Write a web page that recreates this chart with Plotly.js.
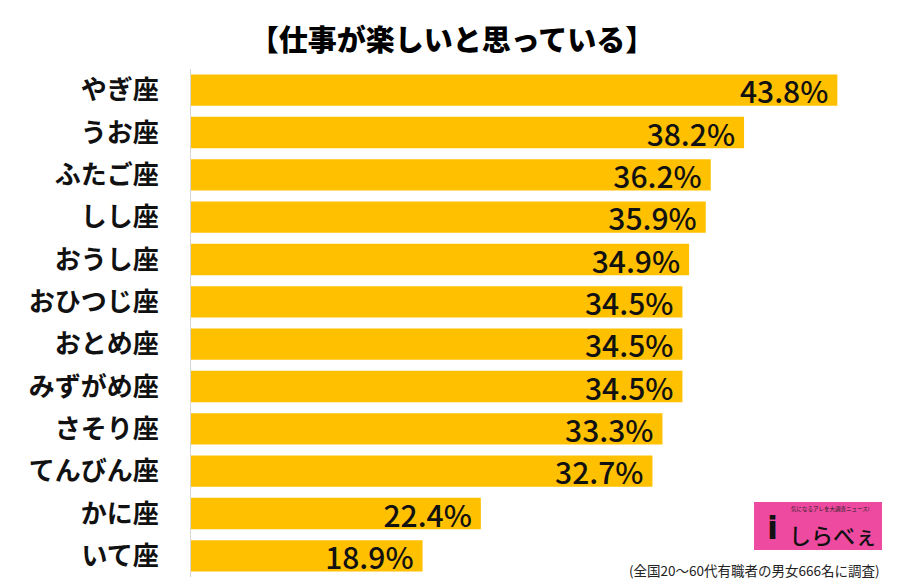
<!DOCTYPE html>
<html><head><meta charset="utf-8">
<script src="https://cdn.plot.ly/plotly-3.0.1.min.js"></script>
<style>html,body{margin:0;padding:0;background:#fff}</style>
</head><body>
<div id="chart" style="width:904px;height:585px"></div>
<script>
const signs = ["やぎ座","うお座","ふたご座","しし座","おうし座","おひつじ座","おとめ座","みずがめ座","さそり座","てんびん座","かに座","いて座"];
const values = [43.8,38.2,36.2,35.9,34.9,34.5,34.5,34.5,33.3,32.7,22.4,18.9];
const titleText = "【仕事が楽しいと思っている】";
const noteText = "(全国20～60代有職者の男女666名に調査)";

const JP = '"Noto Sans CJK JP", "Noto Sans", sans-serif';

const trace = {
  type: 'bar', orientation: 'h',
  y: signs, x: values,
  texttemplate: '%{x:.1f}%\u2009',
  textposition: 'inside', insidetextanchor: 'end',
  constraintext: 'none',
  textfont: {family: JP, size: 30, color: '#111', weight: 500},
  marker: {color: '#FFC000'},
  hoverinfo: 'none'
};

const px = x => (x - 191) / 693;
const py = y => (577 - y) / 508;

const layout = {
  width: 904, height: 585,
  margin: {l: 191, r: 20, t: 69, b: 8},
  paper_bgcolor: '#fff', plot_bgcolor: '#fff',
  bargap: 0.26,
  showlegend: false,
  title: {text: titleText, font: {family: JP, size: 29, color: '#000', weight: 900}, x: 0.5, xanchor: 'center', y: 0.93, yanchor: 'middle'},
  xaxis: {range: [5, 46.6], visible: false, fixedrange: true},
  yaxis: {autorange: 'reversed', showline: true, linecolor: '#d6d6d6', linewidth: 1,
          ticks: '', ticklabelstandoff: 26, showgrid: false, zeroline: false,
          tickfont: {family: JP, size: 26, color: '#111', weight: 'bold'}},
  shapes: [
    {type: 'rect', xref: 'paper', yref: 'paper',
     x0: px(754), x1: px(882), y0: py(550), y1: py(502),
     fillcolor: '#EE4AA0', line: {width: 0}, layer: 'above'}
  ],
  annotations: [
    {text: noteText, xref: 'paper', yref: 'paper', x: px(882), y: py(570),
     xanchor: 'right', yanchor: 'middle', showarrow: false,
     font: {family: JP, size: 13.5, color: '#222'}},
    {text: 'しらべぇ', xref: 'paper', yref: 'paper', x: px(879), y: py(534),
     xanchor: 'right', yanchor: 'middle', showarrow: false,
     font: {family: JP, size: 22, color: '#111', weight: 500}},
    {text: '気になるアレを大調査ニュース!', xref: 'paper', yref: 'paper', x: px(872), y: py(509),
     xanchor: 'right', yanchor: 'middle', showarrow: false,
     font: {family: JP, size: 5.5, color: '#222'}},
    {text: 'i', xref: 'paper', yref: 'paper', x: px(772), y: py(528),
     xanchor: 'center', yanchor: 'middle', showarrow: false,
     font: {family: 'DejaVu Sans', size: 32, color: '#111', weight: 'bold'}}
  ]
};

Plotly.newPlot('chart', [trace], layout, {staticPlot: true, displayModeBar: false});
</script>
</body></html>
